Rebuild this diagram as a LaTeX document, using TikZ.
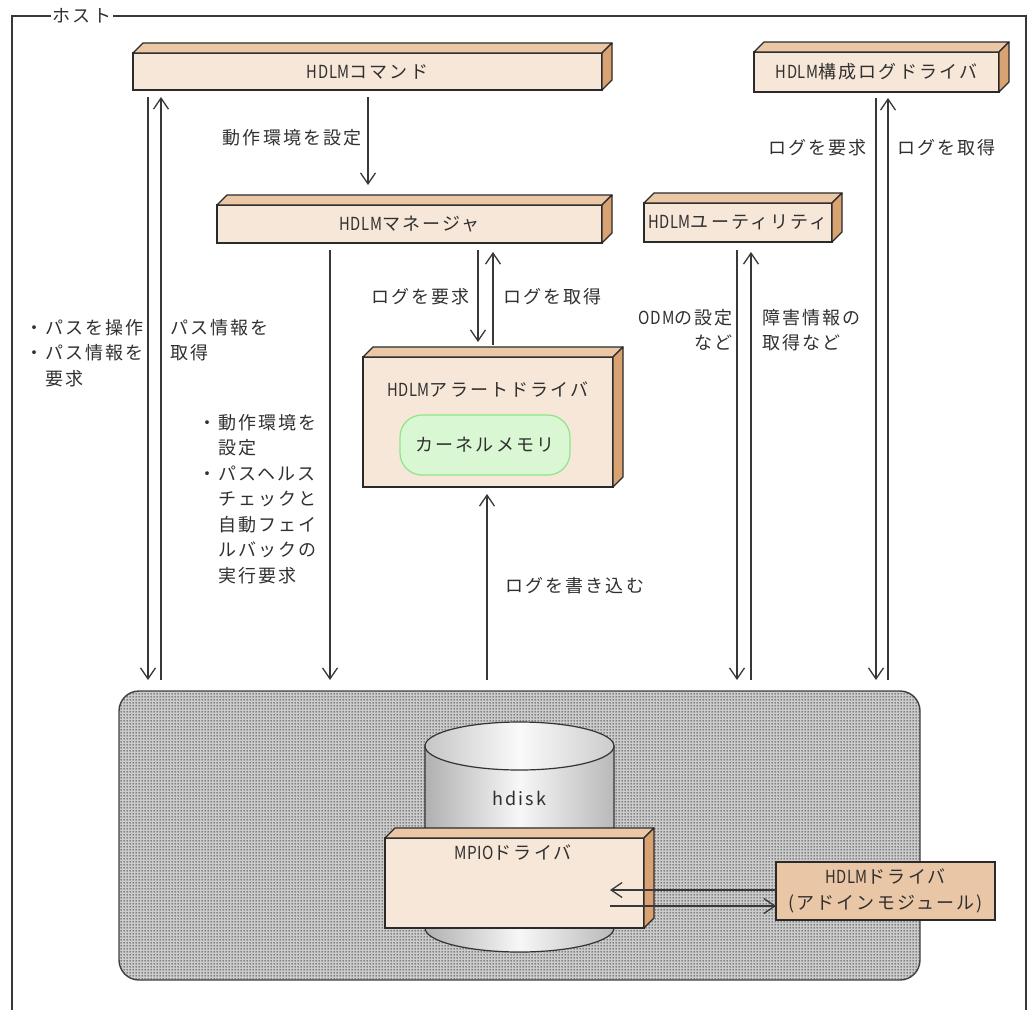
\documentclass[tikz,border=0pt]{standalone}
\usepackage{fontspec}
\usepackage{graphicx}
\setmainfont{Noto Sans CJK JP}[LetterSpace=12]
\usetikzlibrary{arrows.meta,patterns,calc}
\pgfdeclarepatternformonly{gdots}{\pgfqpoint{0pt}{0pt}}{\pgfqpoint{3pt}{3pt}}{\pgfqpoint{3pt}{3pt}}{\pgfpathrectangle{\pgfqpoint{0.7pt}{0.7pt}}{\pgfqpoint{1.6pt}{1.6pt}}\pgfusepath{fill}}
\newcommand{\hdlm}{{\addfontfeatures{LetterSpace=4}\scalebox{0.82}[1]{HDLM}}}
\newcommand{\cnd}[1]{{\addfontfeatures{LetterSpace=4}\scalebox{0.85}[1]{#1}}}
\definecolor{peach}{HTML}{F7E7D8}
\definecolor{peachtop}{HTML}{EBC7A5}
\definecolor{peachside}{HTML}{D9A273}
\definecolor{drvfill}{HTML}{E9C6A5}
\definecolor{boxline}{HTML}{2A2A2A}
\definecolor{lc}{HTML}{383838}
\definecolor{kfill}{HTML}{D9F7D2}
\definecolor{kline}{HTML}{8FE58A}
\definecolor{txt}{HTML}{303030}
\begin{document}
\begin{tikzpicture}[x=1pt,y=-1pt,
  font=\fontsize{18}{25.5}\selectfont, text=txt,
  slab/.style={draw=boxline, line width=1.3pt, fill=peach, inner sep=0pt, outer sep=0pt},
  topface/.style={draw=boxline, line width=1.3pt, fill=peachtop, line join=round},
  sideface/.style={draw=boxline, line width=1.3pt, fill=peachside, line join=round},
  arr/.style={draw=lc, line width=1.3pt, -{Straight Barb[length=11pt,width=15pt,line width=1.3pt]}},
  lbl/.style={inner sep=0pt, align=left},
  lblr/.style={inner sep=0pt, align=right}]
\useasboundingbox (0,0) rectangle (1029,1010);

% host frame
\node[inner sep=2pt] (host) at (82,16) {ホスト};
\draw[draw=lc, line width=1.4pt] (host.west) -- (12,16) -- (12,1012);
\draw[draw=lc, line width=1.4pt] (host.east) -- (1026,16) -- (1026,1012);

% driver area
\node[draw=black!75, line width=1.4pt, rounded corners=20pt, preaction={fill=gray!40},
      pattern=gdots, pattern color=black!90, minimum width=801pt, minimum height=289pt,
      inner sep=0pt, outer sep=0pt] (area) at (519.5,835.5) {};

% hdisk cylinder
\draw[line width=1.2pt, draw=black!80, left color=gray!62, right color=gray!55, middle color=gray!6]
  (425,746) -- (425,928) arc[start angle=180,end angle=360,x radius=94.5pt,y radius=24pt] -- (614,746) -- cycle;
\draw[line width=1.2pt, draw=black!80, left color=gray!45, right color=gray!40, middle color=gray!4]
  (519.5,746) ellipse [x radius=94.5pt, y radius=24pt];
\node (hdisk) at (519.5,798) {hdisk};

% boxes
\node[slab, minimum width=469pt, minimum height=37pt] (cmd) at (367.5,71.5) {\hdlm コマンド};
\node[slab, minimum width=385pt, minimum height=38pt] (mgr) at (409.5,224) {\hdlm マネージャ};
\node[slab, minimum width=245pt, minimum height=40pt] (logdrv) at (876.5,72) {\hdlm 構成ログドライバ};
\node[slab, minimum width=188pt, minimum height=39pt, text width=188pt, align=center] (util) at (738,222.5) {\hdlm ユーティリティ};
\node[slab, minimum width=250pt, minimum height=130pt] (alert) at (488,422) {};
\node[slab, minimum width=259pt, minimum height=90pt] (mpio) at (514.5,883) {};
\foreach \n in {cmd,mgr,logdrv,util,alert,mpio}{
  \filldraw[topface] (\n.north west) -- ++(10,-10) -- ($(\n.north east)+(10,-10)$) -- (\n.north east) -- cycle;
  \filldraw[sideface] (\n.north east) -- ++(10,-10) -- ($(\n.south east)+(10,-10)$) -- (\n.south east) -- cycle;
}
\node (alerttxt) at (488,390) {\hdlm アラートドライバ};
\node[draw=kline, line width=1.2pt, fill=kfill, rounded corners=22pt, minimum width=170pt,
      minimum height=60pt, inner sep=0pt] (kmem) at (485,445) {カーネルメモリ};
\node (mpiotxt) at (513,853) {\cnd{MPIO}ドライバ};
\node[draw=boxline, line width=1.3pt, fill=drvfill, minimum width=219pt, minimum height=58pt,
      inner sep=0pt, outer sep=0pt, align=center] (hdrv) at (885.5,891) {\hdlm ドライバ\\(アドインモジュール)};

% connectors
\draw[arr] ([xshift=15pt,yshift=-7pt]cmd.south west) -- ([xshift=29pt,yshift=11pt]area.north west);
\draw[arr] ([xshift=42pt,yshift=11pt]area.north west) -- ([xshift=28pt,yshift=-7pt]cmd.south west);
\draw[arr] ([xshift=235pt,yshift=-7pt]cmd.south west) -- ([xshift=151pt,yshift=20pt]mgr.north west);
\draw[arr] ([xshift=113pt,yshift=-7pt]mgr.south west) -- ([xshift=211pt,yshift=11pt]area.north west);
\draw[arr] ([xshift=261pt,yshift=-7pt]mgr.south west) -- ([xshift=115pt,yshift=15pt]alert.north west);
\draw[arr] ([xshift=130pt,yshift=12pt]alert.north west) -- ([xshift=276pt,yshift=-9pt]mgr.south west);
\draw[arr] ([xshift=368pt,yshift=11pt]area.north west) -- ([xshift=124pt,yshift=-7pt]alert.south west);
\draw[arr] ([xshift=93pt,yshift=-8pt]util.south west) -- ([xshift=618pt,yshift=11pt]area.north west);
\draw[arr] ([xshift=632pt,yshift=11pt]area.north west) -- ([xshift=107pt,yshift=-10pt]util.south west);
\draw[arr] ([xshift=122pt,yshift=-6pt]logdrv.south west) -- ([xshift=757pt,yshift=11pt]area.north west);
\draw[arr] ([xshift=769pt,yshift=11pt]area.north west) -- ([xshift=134pt,yshift=-6pt]logdrv.south west);
\draw[arr] ([yshift=1pt]hdrv.west) -- ([xshift=-34pt,yshift=-7pt]mpio.east);
\draw[arr] ([xshift=-34pt,yshift=-23pt]mpio.east) -- ([yshift=-15pt]hdrv.west);

% labels
\node[lbl, anchor=north west] (l1) at (25,319) {・パスを操作\\・パス情報を\\　要求};
\node[lbl, anchor=north west] (l2) at (170,319) {パス情報を\\取得};
\node[lblr, anchor=east] (l3) at (362,138) {動作環境を設定};
\node[lbl, anchor=north west] (l4) at (198,414) {・動作環境を\\　設定\\・パスヘルス\\　チェックと\\　自動フェイ\\　ルバックの\\　実行要求};
\node[lblr, anchor=east] (l5) at (470,297) {ログを要求};
\node[lbl, anchor=west] (l6) at (503,297) {ログを取得};
\node[lbl, anchor=west] (l7) at (505,586) {ログを書き込む};
\node[lblr, anchor=north east] (l8) at (733,309) {\cnd{ODM}の設定\\など};
\node[lbl, anchor=north west] (l9) at (762,309) {障害情報の\\取得など};
\node[lblr, anchor=east] (l10) at (867,148) {ログを要求};
\node[lbl, anchor=west] (l11) at (897,148) {ログを取得};
\end{tikzpicture}
\end{document}
